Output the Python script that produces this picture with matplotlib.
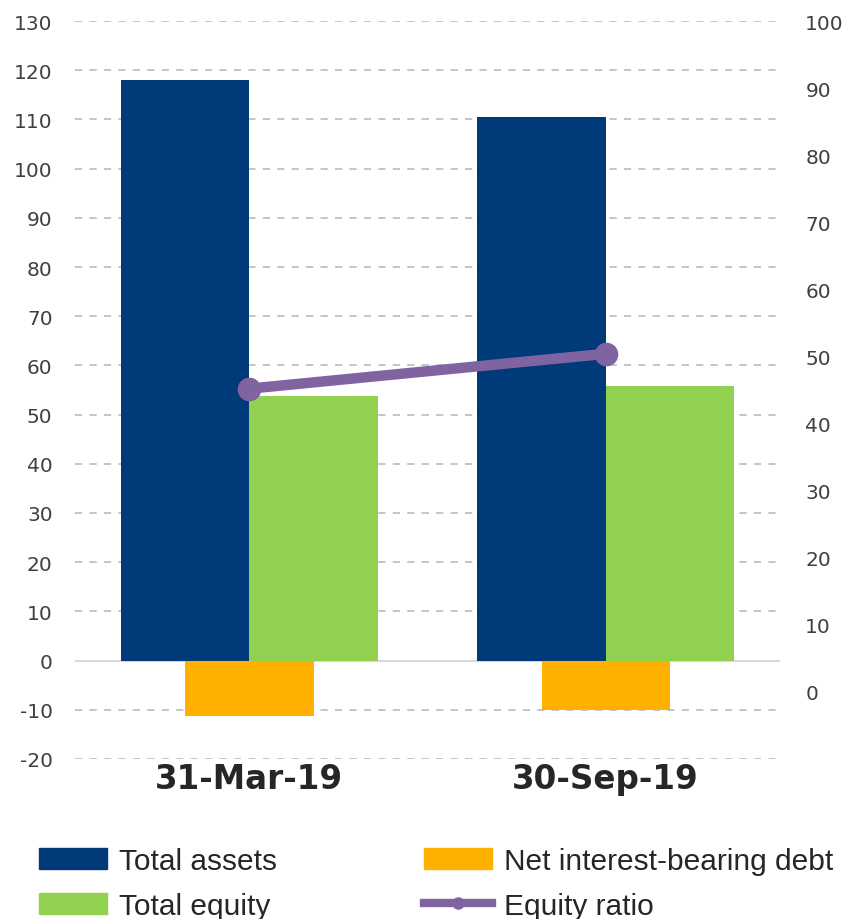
import numpy as np
import matplotlib.pyplot as plt
from matplotlib.patches import Patch
from matplotlib.lines import Line2D

plt.rcParams["axes.unicode_minus"] = False

# data
dates = ["31-Mar-19", "30-Sep-19"]
total_assets = [118.1, 110.6]
total_equity = [53.7, 55.9]
net_debt = [-11.2, -10.0]
equity_ratio = [45.2, 50.4]

navy = "#003A78"
green = "#92D050"
orange = "#FFB000"
purple = "#8064A2"
txt = "#404040"

fig = plt.figure(figsize=(8.5, 9.2), dpi=100)
ax = fig.add_axes([0.088, 0.174, 0.83, 0.802])

x = np.arange(len(dates))
w = 0.36

# gridlines first so bars sit on top
ax.set_ylim(-20, 130)
ax.set_yticks(np.arange(-20, 131, 10))
ax.yaxis.grid(True, linestyle=(0, (4, 4)), color="#c0c0c0", linewidth=1.3)
ax.set_axisbelow(True)

ax.bar(x - w / 2, total_assets, w, color=navy, zorder=2)
ax.bar(x + w / 2, total_equity, w, color=green, zorder=2)
ax.bar(x, net_debt, w, color=orange, zorder=2)
ax.axhline(0, color="#d9d9d9", linewidth=1.5, zorder=1.5)

ax.set_xlim(-0.49, 1.49)
ax.set_xticks(x)
ax.set_xticklabels(dates, fontsize=23.5, fontweight="bold", color="#262626")
ax.tick_params(axis="x", length=0, pad=2)
ax.tick_params(axis="y", length=0, labelsize=14.5, labelcolor=txt, pad=16)
for s in ax.spines.values():
    s.set_visible(False)

ax2 = ax.twinx()
ax2.set_ylim(-10, 100)
ax2.set_yticks(np.arange(0, 101, 10))
ax2.plot(x, equity_ratio, color=purple, linewidth=7.5, marker="o", markersize=16,
         solid_capstyle="round", zorder=3)
ax2.tick_params(axis="y", length=0, labelsize=14.5, labelcolor=txt, pad=18)
for s in ax2.spines.values():
    s.set_visible(False)

handles = [
    Patch(color=navy, label="Total assets"),
    Patch(color=green, label="Total equity"),
    Patch(color=orange, label="Net interest-bearing debt"),
    Line2D([0], [0], color=purple, linewidth=6, marker="o", markersize=8,
           label="Equity ratio"),
]
fig.legend(handles=handles, ncol=2, loc="lower left", bbox_to_anchor=(0.014, -0.030),
           frameon=False, prop={"family": "Liberation Sans", "size": 21.5},
           labelcolor="#262626", handlelength=2.3, handleheight=0.7,
           handletextpad=0.4, columnspacing=4.9, labelspacing=0.55)

fig.savefig("out.png", dpi=100)
